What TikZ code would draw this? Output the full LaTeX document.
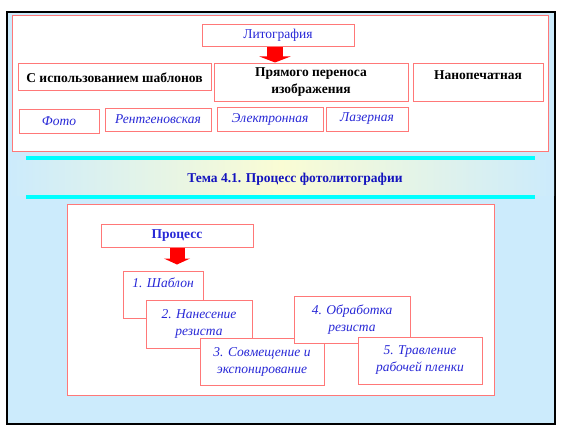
\documentclass[tikz,border=0pt]{standalone}
\usepackage{fontspec}
\setmainfont{Liberation Serif}
\usepackage{tikz}
\usetikzlibrary{arrows.meta,positioning}

\definecolor{bgblue}{RGB}{204,235,252}
\definecolor{boxred}{RGB}{255,120,120}
\definecolor{txtblue}{RGB}{40,40,215}
\definecolor{titleblue}{RGB}{20,20,190}
\definecolor{paleyellow}{RGB}{250,252,212}
\definecolor{aqua}{RGB}{0,255,255}

\begin{document}
\begin{tikzpicture}[
  x=1pt, y=-1pt,
  box/.style={draw=boxred, fill=white, line width=1pt, align=center, inner sep=0pt,
    font=\fontsize{13.5}{17}\selectfont},
  head/.style={box, font=\fontsize{13.5}{17}\selectfont\bfseries},
  kind/.style={box, text=txtblue, font=\fontsize{13.5}{17}\selectfont\itshape},
  bigarrow/.style={red, line width=16pt, -{Triangle[width=31pt,length=6pt]}}
]
\useasboundingbox (0,0) rectangle (561,433);

% Frame and background
\draw[line width=1.2pt, fill=bgblue] (7,12) rectangle (555,424);
\draw[boxred, line width=1pt, fill=white] (12,16) rectangle (548,151);
\draw[boxred, line width=1pt, fill=white] (67,204) rectangle (494,395);

% Title band
\shade[left color=bgblue, right color=bgblue, middle color=paleyellow] (8,160) rectangle (554,195);
\draw[aqua, line width=4pt] (26,158) -- (535,158);
\draw[aqua, line width=4pt] (26,197) -- (535,197);
\node[font=\fontsize{13.5}{17}\selectfont\bfseries, text=titleblue] (title) at (295,179) {Тема 4.1. Процесс фотолитографии};

% Lithography kinds
\node[box, text=txtblue, minimum width=152pt, minimum height=22pt] (lit) at (278,35.5) {Литография};
\node[head, minimum width=193pt, minimum height=27pt] (tpl) at (114.5,77.5) {С использованием шаблонов};
\node[head, minimum width=194pt, minimum height=37pt] (direct) at (311,82.5) {Прямого переноса\\изображения};
\node[head, minimum width=130pt, minimum height=37pt, text depth=14pt] (nano) at (478,82.5) {Нанопечатная};
\draw[bigarrow, shorten >=1pt] ([xshift=-3pt]lit.south) -- ([xshift=-3pt]lit.south |- direct.north);

\node[kind, minimum width=80pt, minimum height=24pt] (photo) at (59,121) {Фото};
\node[kind, minimum width=106pt, minimum height=23pt] (xray) at (158,119.5) {Рентгеновская};
\node[kind, minimum width=106pt, minimum height=24pt] (ebeam) at (270,119) {Электронная};
\node[kind, minimum width=82pt, minimum height=24pt] (laser) at (367,119) {Лазерная};

% Process steps
\node[head, text=txtblue, minimum width=152pt, minimum height=23pt] (proc) at (177,235.5) {Процесс};
\node[kind, minimum width=80pt, minimum height=47pt, text depth=24pt] (s1) at (163,294.5) {1. Шаблон};
\draw[bigarrow, line width=15pt, -{Triangle[width=26pt,length=6pt]}, shorten >=6pt] (proc.south) -- (proc.south |- s1.north);
\node[kind, minimum width=106pt, minimum height=48pt] (s2) at (199,324) {2. Нанесение\\резиста};
\node[kind, minimum width=124pt, minimum height=47pt] (s3) at (262,361.5) {3. Совмещение и\\экспонирование};
\node[kind, minimum width=116pt, minimum height=47pt] (s4) at (352,319.5) {4. Обработка\\резиста};
\node[kind, minimum width=124pt, minimum height=47pt] (s5) at (420,360.5) {5. Травление\\рабочей пленки};

\end{tikzpicture}
\end{document}
